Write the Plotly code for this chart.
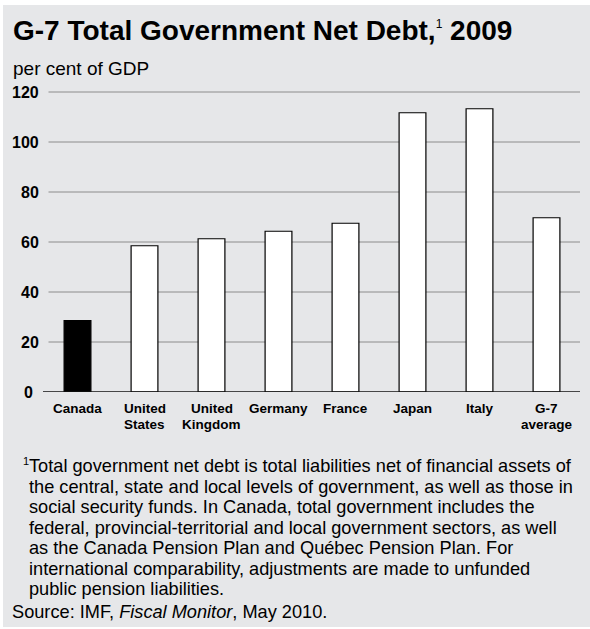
import plotly.graph_objects as go

# Data: G-7 total government net debt, 2009 (per cent of GDP)
countries = ["Canada", "United States", "United Kingdom", "Germany", "France", "Japan", "Italy", "G-7 average"]
label_lines = [["Canada"], ["United", "States"], ["United", "Kingdom"], ["Germany"],
               ["France"], ["Japan"], ["Italy"], ["G-7", "average"]]
net_debt = [28.6, 58.5, 61.3, 64.3, 67.5, 111.7, 113.3, 69.7]
y_ticks = [0, 20, 40, 60, 80, 100, 120]

footnote_lines = [
    "Total government net debt is total liabilities net of financial assets of",
    "the central, state and local levels of government, as well as those in",
    "social security funds. In Canada, total government includes the",
    "federal, provincial-territorial and local government sectors, as well",
    "as the Canada Pension Plan and Québec Pension Plan. For",
    "international comparability, adjustments are made to unfunded",
    "public pension liabilities.",
]
source_text = "Source: IMF, <i>Fiscal Monitor</i>, May 2010."

W, H = 590, 629
L, R, T, B = 44, 10, 87, 237
PW, PH = W - L - R, H - T - B
FONT = "Liberation Sans, Arial, Helvetica, sans-serif"
BG = "#e6e7e9"


def px_x(p):
    return (p - L) / PW


def px_y(p):
    return (H - B - p) / PH


colors = ["black"] + ["white"] * (len(countries) - 1)

fig = go.Figure(go.Bar(
    x=list(range(len(countries))),
    y=net_debt,
    marker=dict(color=colors, line=dict(color="black", width=1.2)),
    width=0.4,
    hoverinfo="skip",
))

shapes = [
    # panel background
    dict(type="rect", xref="paper", yref="paper", x0=px_x(3), x1=px_x(W + 2),
         y0=px_y(627), y1=px_y(5), fillcolor=BG, line=dict(width=0), layer="below"),
]
# horizontal gridlines
for v in y_ticks[1:]:
    shapes.append(dict(type="line", xref="paper", yref="y", x0=px_x(48.5), x1=1,
                       y0=v, y1=v, line=dict(color="#8c8c8c", width=1), layer="below"))
# baseline
shapes.append(dict(type="line", xref="paper", yref="y", x0=px_x(43), x1=1,
                   y0=0, y1=0, line=dict(color="#111111", width=1.6), layer="above"))

annotations = []
# y tick labels
for v in y_ticks:
    annotations.append(dict(
        text=f"<b>{v}</b>", xref="paper", yref="y", x=px_x(41 if v else 35), y=v,
        xanchor="right", yanchor="middle", showarrow=False,
        font=dict(family=FONT, size=16, color="black"),
    ))
# category labels
for i, lines in enumerate(label_lines):
    for j, line in enumerate(lines):
        annotations.append(dict(
            text=f"<b>{line}</b>", xref="x", yref="paper", x=i, y=px_y(408 + 16 * j),
            xanchor="center", yanchor="middle", showarrow=False,
            font=dict(family=FONT, size=13.5, color="black"),
        ))
# title and unit
annotations.append(dict(
    text="<b>G-7 Total Government Net Debt,</b><sup><span style='font-size:12px'>1</span></sup>"
         "<b> 2009</b>",
    xref="paper", yref="paper", x=px_x(11), y=px_y(30),
    xanchor="left", yanchor="middle", showarrow=False,
    font=dict(family=FONT, size=28, color="black"),
))
annotations.append(dict(
    text="per cent of GDP", xref="paper", yref="paper", x=px_x(11), y=px_y(68),
    xanchor="left", yanchor="middle", showarrow=False,
    font=dict(family=FONT, size=19, color="black"),
))
# footnote marker
annotations.append(dict(
    text="1", xref="paper", yref="paper", x=px_x(21), y=px_y(461),
    xanchor="left", yanchor="middle", showarrow=False,
    font=dict(family=FONT, size=11, color="black"),
))
for k, line in enumerate(footnote_lines):
    annotations.append(dict(
        text=line, xref="paper", yref="paper", x=px_x(27), y=px_y(466 + 20.5 * k),
        xanchor="left", yanchor="middle", showarrow=False,
        font=dict(family=FONT, size=18.2, color="black"),
    ))
annotations.append(dict(
    text=source_text, xref="paper", yref="paper", x=px_x(10), y=px_y(612),
    xanchor="left", yanchor="middle", showarrow=False,
    font=dict(family=FONT, size=18.2, color="black"),
))

fig.update_layout(
    width=W, height=H,
    margin=dict(l=L, r=R, t=T, b=B, pad=0),
    paper_bgcolor="white",
    plot_bgcolor="rgba(0,0,0,0)",
    showlegend=False,
    bargap=0.6,
    xaxis=dict(range=[-0.5, len(countries) - 0.5], showticklabels=False, showgrid=False,
               zeroline=False, showline=False, ticks="", fixedrange=True),
    yaxis=dict(range=[0, 122], showticklabels=False, showgrid=False,
               zeroline=False, showline=False, ticks="", fixedrange=True),
    shapes=shapes,
    annotations=annotations,
)

fig.write_html("out.html")
